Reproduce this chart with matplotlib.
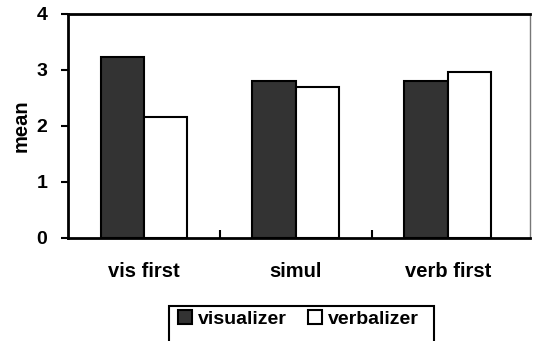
import numpy as np
import matplotlib.pyplot as plt
from matplotlib.patches import Rectangle

plt.rcParams['font.family'] = ['Liberation Sans', 'DejaVu Sans']
plt.rcParams['font.weight'] = 'bold'

categories = ['vis first', 'simul', 'verb first']
visualizer = [3.23, 2.80, 2.80]
verbalizer = [2.16, 2.70, 2.96]

fig = plt.figure(figsize=(5.35, 3.41), dpi=100)
ax = fig.add_axes([68 / 535, 1 - 238 / 341, (530 - 68) / 535, (238 - 14) / 341])

x = np.arange(len(categories))
w = 0.286
b1 = ax.bar(x - w / 2, visualizer, w, color='#333333', edgecolor='black', linewidth=1.5, label='visualizer')
b2 = ax.bar(x + w / 2, verbalizer, w, color='white', edgecolor='black', linewidth=1.5, label='verbalizer')

ax.set_xlim(-0.5, 2.54)
ax.set_ylim(0, 4)
ax.set_yticks([0, 1, 2, 3, 4])
ax.tick_params(axis='y', direction='out', length=5, width=1.5, labelsize=14, pad=10)
ax.set_xticks([0.5, 1.5])
ax.set_xticklabels([])
ax.tick_params(axis='x', direction='in', length=6, width=1.5)
for i, c in enumerate(categories):
    ax.text(i, -0.42, c, ha='center', va='top', fontsize=14.5, fontweight='bold')
ax.set_ylabel('mean', fontsize=14.5, fontweight='bold', labelpad=4)

for s in ['left', 'bottom', 'top']:
    ax.spines[s].set_linewidth(2)
ax.spines['right'].set_color('#777777')
ax.spines['right'].set_linewidth(1)

# legend: box runs off the bottom of the picture
leg = fig.legend(handles=[b1, b2], loc='upper left', bbox_to_anchor=(174 / 535, 1 - 306 / 341),
                 ncol=2, frameon=False, fontsize=14, handlelength=0.72,
                 handleheight=0.72, handletextpad=0.3, columnspacing=1.1, borderpad=0.2,
                 borderaxespad=0)
fig.patches.append(Rectangle((169 / 535, -0.05), (434 - 169) / 535, 0.05 + 35 / 341,
                             transform=fig.transFigure, fill=False, edgecolor='black', linewidth=1.5))

fig.savefig('out.png', dpi=100)
